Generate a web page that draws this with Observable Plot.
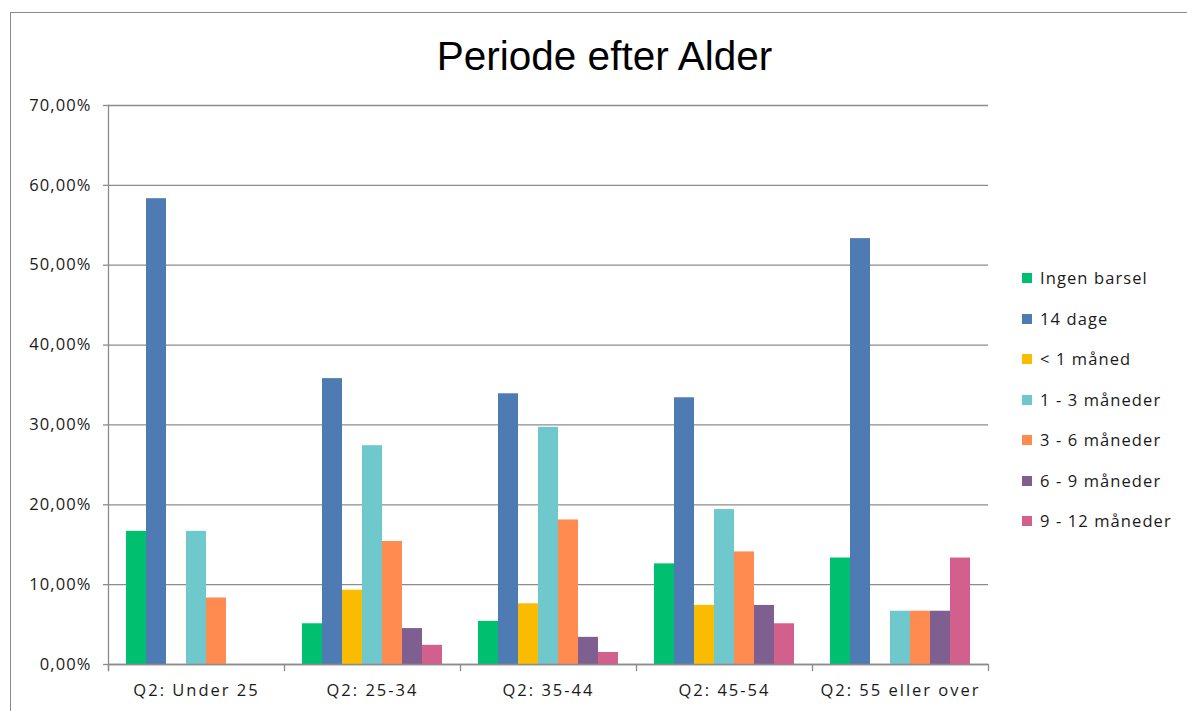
<!DOCTYPE html>
<html>
<head>
<meta charset="utf-8">
<script src="https://cdn.jsdelivr.net/npm/d3@7"></script>
<script src="https://cdn.jsdelivr.net/npm/@observablehq/plot@0.6"></script>
<style>
  html, body { margin: 0; padding: 0; background: #fff; overflow: hidden; }
  body { width: 1187px; height: 711px; position: relative; font-family: "Open Sans", sans-serif; }
  #frame { position: absolute; left: 10px; top: 12px; width: 1250px; height: 760px; border: 1px solid #8a8a8a; box-sizing: border-box; }
  #title { position: absolute; left: 0; width: 1209px; top: 33px; text-align: center; font-family: "Liberation Sans", Arial, sans-serif; font-size: 40.5px; line-height: 46px; color: #000; }
  #chart { position: absolute; left: 0; top: 90px; }
  #legend { position: absolute; left: 1022px; top: 267px; font-family: "Open Sans", sans-serif; font-size: 16.5px; letter-spacing: 1.1px; color: #1a1a1a; }
  .row { height: 40.5px; display: flex; align-items: flex-start; white-space: nowrap; line-height: 22px; }
  .sw { width: 10px; height: 10px; margin-right: 8px; margin-top: 6px; flex: none; }
  .chart g[aria-label="fx-axis tick label"] text { letter-spacing: 2px; }
  .chart g[aria-label="y-axis tick label"] text { letter-spacing: 1.1px; }
</style>
</head>
<body>
<div id="frame"></div>
<div id="title">Periode efter Alder</div>
<div id="chart"></div>
<div id="legend"></div>
<script>
const categories = ["Q2: Under 25", "Q2: 25-34", "Q2: 35-44", "Q2: 45-54", "Q2: 55 eller over"];
const series = ["Ingen barsel", "14 dage", "< 1 måned", "1 - 3 måneder", "3 - 6 måneder", "6 - 9 måneder", "9 - 12 måneder"];
const colors = ["#00BF6F", "#4F7BB4", "#F9BC00", "#6EC8CC", "#FF8B50", "#7F5F8F", "#D35F8D"];
const ingenBarsel   = [16.67, 5.1, 5.4, 12.6, 13.33];
const dage14        = [58.33, 35.8, 33.9, 33.4, 53.33];
const under1Maaned  = [0, 9.3, 7.6, 7.4, 0];
const maaneder1_3   = [16.67, 27.4, 29.7, 19.4, 6.67];
const maaneder3_6   = [8.33, 15.4, 18.1, 14.1, 6.67];
const maaneder6_9   = [0, 4.5, 3.4, 7.4, 6.67];
const maaneder9_12  = [0, 2.4, 1.5, 5.1, 13.33];
const yTicks = [0, 10, 20, 30, 40, 50, 60, 70];

const valuesBySeries = [ingenBarsel, dage14, under1Maaned, maaneder1_3, maaneder3_6, maaneder6_9, maaneder9_12];
const data = [];
categories.forEach((c, i) => series.forEach((s, j) => data.push({category: c, series: s, value: valuesBySeries[j][i]})));

const fmt = d => d.toFixed(2).replace(".", ",") + "%";
const gray = "#8c8c8c";
const plotH = 664 - 105;

const chart = Plot.plot({
  className: "chart",
  width: 1000,
  height: 621,
  marginTop: 15,
  marginBottom: 47,
  marginLeft: 108,
  marginRight: 12,
  style: {fontFamily: "Open Sans, sans-serif", fontSize: "16.5px", color: "#1a1a1a", background: "transparent"},
  fx: {domain: categories, padding: 0, label: null},
  x: {domain: series, paddingInner: 0, paddingOuter: 0.75, axis: null},
  y: {domain: [0, 70], ticks: yTicks, label: null},
  color: {domain: series, range: colors},
  marks: [
    Plot.gridY(yTicks, {stroke: gray, strokeOpacity: 1, strokeWidth: 1.3}),
    Plot.barY(data, {fx: "category", x: "series", y: "value", fill: "series", inset: 0}),
    Plot.frame({anchor: "left", facetAnchor: "left", stroke: gray, strokeWidth: 1.3, insetBottom: -6}),
    Plot.frame({anchor: "left", stroke: gray, strokeWidth: 1.3, insetTop: plotH, insetBottom: -6}),
    Plot.frame({anchor: "right", facetAnchor: "right", stroke: gray, strokeWidth: 1.3, insetTop: plotH, insetBottom: -6}),
    Plot.ruleY([0], {stroke: gray, strokeWidth: 1.3}),
    Plot.axisY(yTicks, {tickSize: 5, tickPadding: 12, tickFormat: fmt, stroke: gray, strokeWidth: 1.3, fontSize: 16.5, label: null}),
    Plot.axisFx({anchor: "bottom", tickSize: 0, tickPadding: 20, fontSize: 16.5, label: null})
  ]
});
document.getElementById("chart").appendChild(chart);

const legend = document.getElementById("legend");
series.forEach((s, j) => {
  const row = document.createElement("div");
  row.className = "row";
  const sw = document.createElement("div");
  sw.className = "sw";
  sw.style.background = colors[j];
  const t = document.createElement("span");
  t.textContent = s;
  row.appendChild(sw);
  row.appendChild(t);
  legend.appendChild(row);
});
</script>
</body>
</html>
